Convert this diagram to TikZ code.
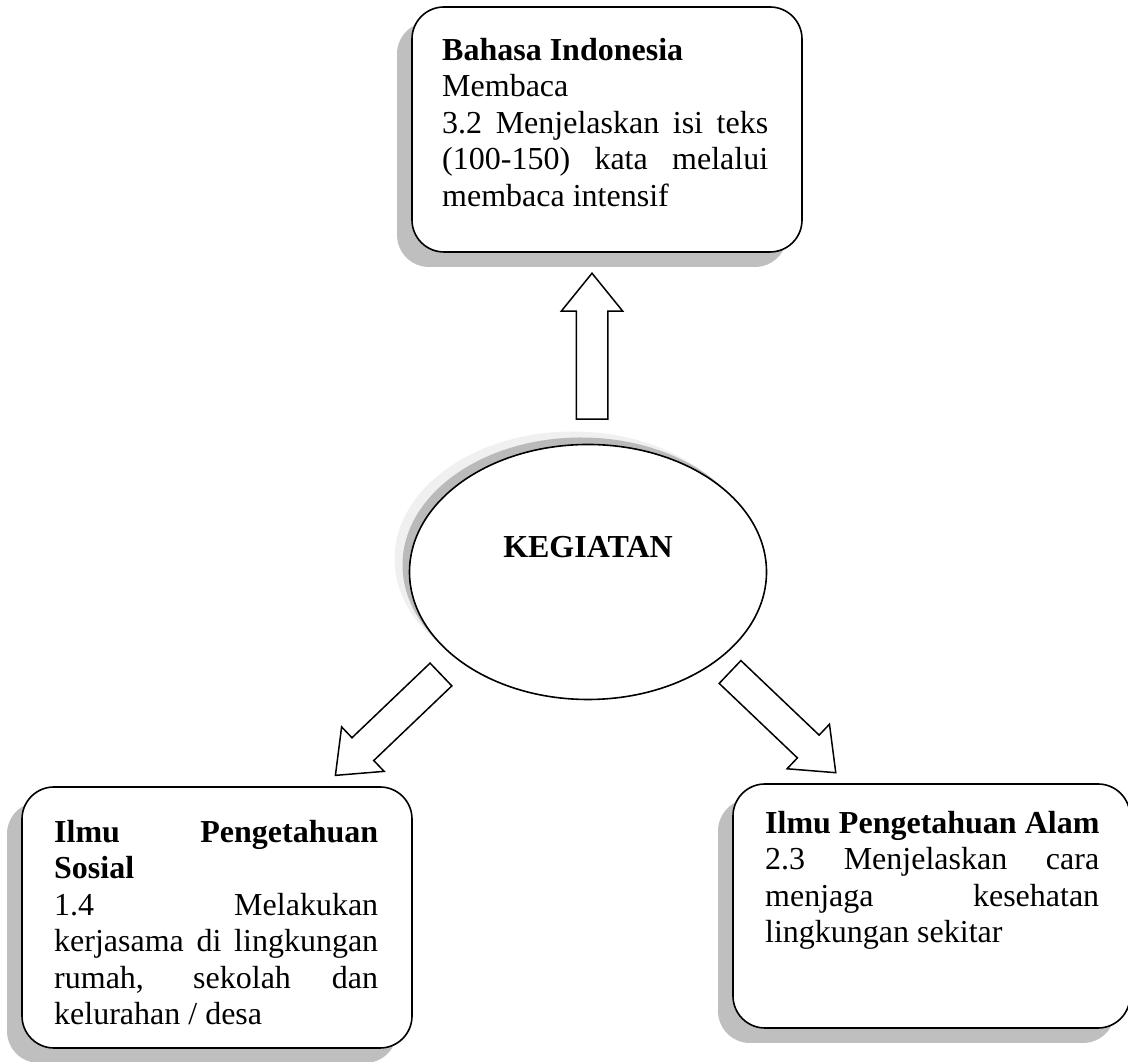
\documentclass[tikz,border=0pt]{standalone}
\usepackage{fontspec}
\setmainfont{Liberation Serif}
\usetikzlibrary{shapes.geometric, shapes.arrows, shadows}
\hyphenpenalty=10000
\tolerance=10000
\begin{document}
\begin{tikzpicture}[x=1pt, y=1pt, card/.style={rectangle, draw, line width=1.6pt, rounded corners=32pt, fill=white, drop shadow={shadow xshift=-15pt, shadow yshift=-15pt, fill=black!25, opacity=1}}, cardtext/.style={anchor=north west, inner sep=0pt, align=justify, font=\fontsize{32pt}{36.5pt}\selectfont}, hub/.style={ellipse, draw, line width=1.6pt, fill=white, general shadow={shadow xshift=-15pt, shadow yshift=13pt, fill=black!6}, general shadow={shadow xshift=-7pt, shadow yshift=7pt, fill=black!27}}, blockarrow/.style={single arrow, draw, line width=1.5pt, fill=white, anchor=tail, minimum height=146pt, inner xsep=0pt, inner ysep=15pt, single arrow head extend=15pt, single arrow tip angle=78}]
	\useasboundingbox (0,0) rectangle (1128,1062);
		\node[card, minimum width=390pt, minimum height=245pt] (bahasaBox) at (607, 932.5) {};
		\node[cardtext, text width=326pt] (bahasa) at (442, 1024) {\textbf{Bahasa Indonesia}\par Membaca\par 3.2 Menjelaskan isi teks\linebreak (100-150) kata melalui\linebreak membaca intensif};
		\node[card, minimum width=390pt, minimum height=261pt] (ipsBox) at (217, 144.5) {};
		\node[cardtext, text width=324pt] (ips) at (54, 242) {\textbf{Ilmu Pengetahuan\linebreak Sosial}\par 1.4 Melakukan\linebreak kerjasama di lingkungan\linebreak rumah, sekolah dan\linebreak kelurahan / desa};
		\node[card, minimum width=397pt, minimum height=244pt] (ipaBox) at (931.5, 156) {};
		\node[cardtext, text width=334pt] (ipa) at (765, 251) {\mbox{\textbf{Ilmu Pengetahuan Alam}}\par 2.3 Menjelaskan cara\linebreak menjaga kesehatan\linebreak lingkungan sekitar};
        \node[hub, minimum width=357pt, minimum height=255pt] (kegiatan) at (588, 490) {};
        \node[font=\fontsize{32pt}{36.5pt}\selectfont\bfseries, inner sep=0pt] (kegiatanText) at ([yshift=25pt]kegiatan.center) {KEGIATAN};
		\node[blockarrow, rotate=90] (upArrow) at (592, 642) {};
		\node[blockarrow, rotate=-136.3] (leftArrow) at (441.5, 388) {};
		\node[blockarrow, rotate=-43.6] (rightArrow) at (729.5, 390.5) {};
	\end{tikzpicture}
\end{document}
